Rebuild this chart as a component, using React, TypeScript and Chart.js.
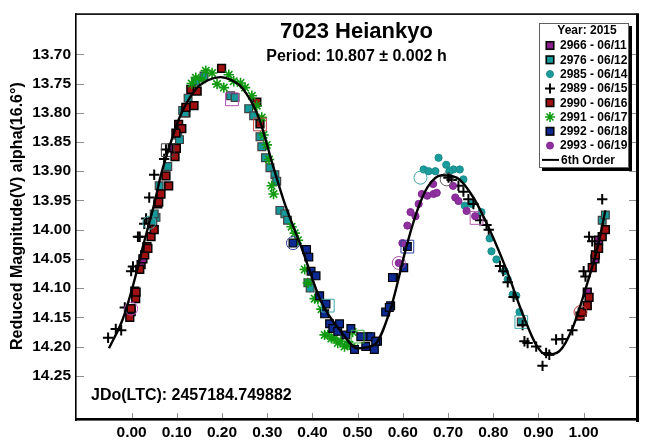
import React, { useEffect, useRef } from 'react';
import { Chart, registerables } from 'chart.js';

Chart.register(...registerables);

const FONT = '"Liberation Sans", Arial, Helvetica, sans-serif';

const titleText = '7023 Heiankyo';
const periodText = 'Period: 10.807 \u00b1 0.002 h';
const epochText = 'JDo(LTC): 2457184.749882';
const yAxisTitle = 'Reduced Magnitude(V) alpha(16.6\u00b0)';
const legendHeader = 'Year: 2015';
const fitLabel = '6th Order';

const xTicks = [0, 0.1, 0.2, 0.3, 0.4, 0.5, 0.6, 0.7, 0.8, 0.9, 1.0];
const yTicks = [13.7, 13.75, 13.8, 13.85, 13.9, 13.95, 14.0, 14.05, 14.1, 14.15, 14.2, 14.25];

const sessionLabels = [
  '2966 - 06/11', '2976 - 06/12', '2985 - 06/14', '2989 - 06/15',
  '2990 - 06/16', '2991 - 06/17', '2992 - 06/18', '2993 - 06/19',
];

// 6th order Fourier fit (phase, mag)
const fitCurve: [number, number][] = [
  [-0.05, 14.203], [-0.019, 14.152], [0.003, 14.096], [0.025, 14.029], [0.05, 13.956],
  [0.065, 13.906], [0.085, 13.855], [0.105, 13.81], [0.142, 13.76], [0.17, 13.744],
  [0.197, 13.739], [0.22, 13.744], [0.244, 13.757], [0.281, 13.808], [0.314, 13.894],
  [0.339, 13.956], [0.376, 14.031], [0.42, 14.124], [0.463, 14.174], [0.5, 14.203],
  [0.537, 14.197], [0.573, 14.135], [0.61, 14.023], [0.632, 13.967], [0.654, 13.928],
  [0.686, 13.907], [0.719, 13.911], [0.756, 13.945], [0.792, 14.0], [0.829, 14.068],
  [0.866, 14.146], [0.895, 14.197], [0.917, 14.214], [0.946, 14.208], [0.975, 14.169],
  [1.004, 14.102], [1.033, 14.023], [1.048, 13.967],
];

const s2966: [number, number][] = [
  [0.007, 14.105], [-0.001, 14.14], [0.021, 14.06], [0.025, 14.05], [0.045, 13.99],
  [0.09, 13.86], [0.12, 13.8], [1.008, 14.107], [1.033, 14.018], [1.025, 14.05],
];
const s2976: [number, number][] = [
  [0.054, 13.979], [0.047, 13.985], [0.05, 13.973], [0.061, 13.925], [0.08, 13.892],
  [0.102, 13.838], [0.106, 13.846], [0.113, 13.796], [0.118, 13.8], [0.125, 13.775],
  [0.142, 13.746], [0.16, 13.737], [0.219, 13.771], [0.229, 13.774], [0.259, 13.793],
  [0.27, 13.805], [0.284, 13.841], [0.288, 13.858], [0.296, 13.877], [0.306, 13.894],
  [0.317, 13.906], [0.321, 13.917], [0.328, 13.967], [0.339, 13.973], [0.345, 13.984],
  [0.39, 14.091], [0.395, 14.1], [0.862, 14.158], [1.041, 13.984], [1.048, 13.975],
];
const s2985: [number, number][] = [
  [0.679, 13.877], [0.696, 13.889], [0.646, 13.897], [0.657, 13.9], [0.672, 13.9],
  [0.712, 13.897], [0.726, 13.897], [0.734, 13.914], [0.703, 13.9], [0.737, 13.959],
  [0.752, 13.956], [0.774, 13.97], [0.792, 14.015], [0.796, 14.037], [0.807, 14.051],
  [0.825, 14.071], [0.832, 14.085], [0.843, 14.111], [0.851, 14.113], [0.858, 14.141],
  [0.865, 14.158],
];
const s2989: [number, number][] = [
  [-0.052, 14.185], [-0.035, 14.17], [-0.023, 14.172], [-0.015, 14.133], [-0.001, 14.071],
  [0.003, 14.063], [0.014, 14.012], [0.018, 14.012], [0.028, 13.99], [0.032, 13.981],
  [0.039, 13.945], [0.05, 13.906], [0.072, 13.879], [0.076, 13.863],
  [0.701, 13.911], [0.708, 13.915], [0.723, 13.925], [0.734, 13.935], [0.745, 13.948],
  [0.756, 13.956], [0.771, 13.984], [0.785, 13.992], [0.79, 14.0], [0.815, 14.062],
  [0.822, 14.071], [0.832, 14.09], [0.845, 14.115], [0.865, 14.163], [0.869, 14.191],
  [0.876, 14.194], [0.895, 14.2], [0.909, 14.233], [0.917, 14.211], [0.924, 14.214],
  [0.939, 14.188], [0.953, 14.187], [0.975, 14.172], [1.0, 14.071], [1.004, 14.08],
  [1.012, 14.012], [1.019, 14.02], [1.041, 13.948],
];
const s2990: [number, number][] = [
  [-0.004, 14.15], [-0.001, 14.135], [0.009, 14.118], [0.01, 14.107], [0.018, 14.068],
  [0.029, 14.043], [0.034, 14.029], [0.036, 14.032], [0.043, 14.012], [0.05, 14.0],
  [0.058, 13.956], [0.06, 13.953], [0.065, 13.939], [0.076, 13.908], [0.082, 13.925],
  [0.096, 13.875], [0.099, 13.861], [0.104, 13.82], [0.111, 13.827], [0.098, 13.835],
  [0.12, 13.791], [0.138, 13.788], [0.131, 13.76], [0.145, 13.763], [0.199, 13.724],
  [0.277, 13.782], [0.284, 13.819],
  [0.992, 14.148], [0.997, 14.141], [1.008, 14.13], [1.012, 14.116], [1.019, 14.065],
  [1.026, 14.043], [1.033, 14.032], [1.041, 14.012], [1.048, 14.0],
];
const s2991: [number, number][] = [
  [0.133, 13.75], [0.142, 13.74], [0.156, 13.743], [0.164, 13.728], [0.178, 13.732],
  [0.189, 13.751], [0.204, 13.757], [0.215, 13.735], [0.226, 13.746], [0.241, 13.749],
  [0.251, 13.757], [0.266, 13.771], [0.277, 13.788], [0.288, 13.808], [0.292, 13.838],
  [0.299, 13.855], [0.304, 13.88], [0.31, 13.925], [0.314, 13.939], [0.354, 13.995],
  [0.361, 14.006], [0.368, 14.018], [0.383, 14.068], [0.39, 14.091], [0.405, 14.118],
  [0.412, 14.119], [0.42, 14.136], [0.427, 14.18], [0.434, 14.18], [0.442, 14.186],
  [0.449, 14.186], [0.456, 14.194], [0.463, 14.191], [0.471, 14.2], [0.478, 14.197],
  [0.482, 14.197], [0.489, 14.175], [0.493, 14.203],
];
const s2992: [number, number][] = [
  [0.357, 14.023], [0.387, 14.034], [0.392, 14.047], [0.397, 14.071], [0.408, 14.079],
  [0.416, 14.113], [0.43, 14.127], [0.427, 14.144], [0.438, 14.161], [0.445, 14.169],
  [0.46, 14.161], [0.456, 14.174], [0.474, 14.18], [0.485, 14.169], [0.493, 14.205],
  [0.507, 14.183], [0.522, 14.183], [0.518, 14.2], [0.537, 14.205], [0.544, 14.191],
  [0.529, 14.183], [0.54, 14.191], [0.562, 14.141], [0.573, 14.13], [0.57, 14.133],
  [0.58, 14.082], [0.577, 14.082], [0.602, 14.065], [0.61, 14.029],
];
const s2993: [number, number][] = [
  [0.591, 14.057], [0.599, 14.023], [0.61, 13.993], [0.617, 13.97], [0.628, 13.977],
  [0.635, 13.956], [0.642, 13.939], [0.654, 13.942], [0.668, 13.939], [0.675, 13.937],
  [0.667, 13.922], [0.711, 13.925], [0.716, 13.945], [0.723, 13.951], [0.741, 13.968],
  [0.76, 13.977],
];

// session start/end markers (hollow)
const openSquares: [number, number][] = [
  [0.222, 13.777], [0.763, 13.98], [0.434, 14.13], [0.862, 14.158], [0.08, 13.864],
  [0.284, 13.82], [0.5, 14.183], [0.61, 14.029],
];
const openCircles: [number, number][] = [
  [0.039, 13.988], [0.639, 13.911], [0.697, 13.914], [0.993, 14.141], [0.357, 14.023],
  [-0.001, 14.135], [0.591, 14.057],
];

const openSquareColors = ['#b050b0', '#b060b0', '#40a8a8', '#40a8a8', '#404040', '#c04040', '#40b040', '#3040a0'];
const openCircleColors = ['#40a8a8', '#40a8a8', '#606060', '#c04040', '#3040a0', '#c050c0', '#b050b0'];

type Sty = { shape: string; fill: string; stroke: string; r: number; bw: number };
const styles: Sty[] = [
  { shape: 'rect', fill: '#8c1f8c', stroke: '#000', r: 5.5, bw: 1.5 },
  { shape: 'rect', fill: '#16999a', stroke: '#404040', r: 5.5, bw: 1.2 },
  { shape: 'circle', fill: '#1a9c9c', stroke: '#1a8a8a', r: 3.6, bw: 1 },
  { shape: 'cross', fill: '#000', stroke: '#000', r: 5.2, bw: 2 },
  { shape: 'rect', fill: '#a01010', stroke: '#000', r: 5.5, bw: 1.5 },
  { shape: 'star', fill: '#109a10', stroke: '#109a10', r: 5.2, bw: 1.6 },
  { shape: 'rect', fill: '#0c2a92', stroke: '#000', r: 5.5, bw: 1.2 },
  { shape: 'circle', fill: '#9030a0', stroke: '#802890', r: 3.6, bw: 1 },
];
const seriesData = [s2966, s2976, s2985, s2989, s2990, s2991, s2992, s2993];

const toXY = (arr: [number, number][]) => arr.map(([x, y]) => ({ x, y }));

function drawMarker(ctx: CanvasRenderingContext2D, s: Sty, x: number, y: number) {
  ctx.save();
  ctx.lineWidth = s.bw;
  ctx.strokeStyle = s.stroke;
  ctx.fillStyle = s.fill;
  if (s.shape === 'rect') {
    const h = s.r * Math.SQRT1_2;
    ctx.fillRect(x - h, y - h, 2 * h, 2 * h);
    ctx.strokeRect(x - h, y - h, 2 * h, 2 * h);
  } else if (s.shape === 'circle') {
    ctx.beginPath();
    ctx.arc(x, y, s.r, 0, Math.PI * 2);
    ctx.fill();
    ctx.stroke();
  } else {
    ctx.beginPath();
    ctx.moveTo(x - s.r, y); ctx.lineTo(x + s.r, y);
    ctx.moveTo(x, y - s.r); ctx.lineTo(x, y + s.r);
    if (s.shape === 'star') {
      const d = s.r * Math.SQRT1_2;
      ctx.moveTo(x - d, y - d); ctx.lineTo(x + d, y + d);
      ctx.moveTo(x - d, y + d); ctx.lineTo(x + d, y - d);
    }
    ctx.stroke();
  }
  ctx.restore();
}

const decorPlugin = {
  id: 'decor',
  beforeDraw(chart: any) {
    const ctx = chart.ctx;
    ctx.save();
    ctx.fillStyle = '#fff';
    ctx.fillRect(0, 0, chart.width, chart.height);
    ctx.restore();
  },
  afterDraw(chart: any) {
    const ctx: CanvasRenderingContext2D = chart.ctx;
    const a = chart.chartArea;
    const xs = chart.scales.x;
    const ys = chart.scales.y;
    ctx.save();
    // tick marks
    ctx.strokeStyle = '#8f8f8f';
    ctx.lineWidth = 1;
    ctx.beginPath();
    yTicks.forEach((v) => {
      const py = Math.round(ys.getPixelForValue(v)) + 0.5;
      ctx.moveTo(a.left, py); ctx.lineTo(a.left + 8, py);
      ctx.moveTo(a.right - 8, py); ctx.lineTo(a.right, py);
    });
    xTicks.forEach((v) => {
      const px = Math.round(xs.getPixelForValue(v)) + 0.5;
      ctx.moveTo(px, a.bottom); ctx.lineTo(px, a.bottom - 7);
    });
    ctx.stroke();
    // frame with shadow
    ctx.fillStyle = '#000';
    ctx.fillRect(a.left - 1, a.top - 1, 1.6, a.bottom - a.top + 2);
    ctx.fillRect(a.left - 1, a.top - 1, a.right - a.left + 1, 1.6);
    ctx.fillRect(a.right - 1, a.top - 1, 3, a.bottom - a.top + 3);
    ctx.fillRect(a.left - 1, a.bottom - 2, a.right - a.left + 3, 2.6);

    const cx = (a.left + a.right) / 2;
    ctx.fillStyle = '#000';
    ctx.textAlign = 'center';
    ctx.textBaseline = 'middle';
    ctx.font = `bold 22px ${FONT}`;
    ctx.fillText(titleText, cx, 32);
    ctx.font = `bold 16px ${FONT}`;
    ctx.fillText(periodText, cx, 57);
    ctx.textAlign = 'left';
    ctx.fillText(epochText, 91, 396);

    // y axis title
    ctx.save();
    ctx.translate(18, (a.top + a.bottom) / 2 - 1);
    ctx.rotate(-Math.PI / 2);
    ctx.textAlign = 'center';
    ctx.font = `bold 16px ${FONT}`;
    ctx.fillText(yAxisTitle, 0, 0);
    ctx.restore();

    // legend
    const lx = 539, ly = 23, lw = 90, lh = 145;
    ctx.fillStyle = '#000';
    ctx.fillRect(lx + 3, ly + 3, lw, lh);
    ctx.fillStyle = '#fff';
    ctx.fillRect(lx, ly, lw, lh);
    ctx.strokeStyle = '#606060';
    ctx.lineWidth = 1;
    ctx.strokeRect(lx + 0.5, ly + 0.5, lw - 1, lh - 1);
    ctx.fillStyle = '#000';
    ctx.font = `bold 12px ${FONT}`;
    ctx.textAlign = 'center';
    ctx.fillText(legendHeader, lx + lw / 2 + 3, 31);
    ctx.textAlign = 'left';
    sessionLabels.forEach((lab, i) => {
      const yy = 45.5 + i * 14.3;
      const st = styles[i];
      const legSty = st.shape === 'rect' ? { ...st, r: 5.3, bw: 1.6, stroke: '#000' } : st.shape === 'circle' ? { ...st, r: 3.5 } : { ...st, r: 5 };
      drawMarker(ctx, legSty, 550, yy);
      ctx.fillStyle = '#000';
      ctx.fillText(lab, 560, yy + 0.5);
    });
    const fy = 45.5 + 8 * 14.3;
    ctx.strokeStyle = '#000';
    ctx.lineWidth = 2;
    ctx.beginPath();
    ctx.moveTo(542, fy); ctx.lineTo(559, fy);
    ctx.stroke();
    ctx.fillText(fitLabel, 561, fy + 0.5);
    ctx.restore();
  },
};

export default function App() {
  const ref = useRef<HTMLCanvasElement | null>(null);
  useEffect(() => {
    document.body.style.margin = '0';
    const canvas = ref.current;
    if (!canvas) return;
    const pointSets = seriesData.map((d, i) => ({
      label: sessionLabels[i],
      data: toXY(d),
      pointStyle: styles[i].shape,
      pointRadius: styles[i].r,
      pointBackgroundColor: styles[i].fill,
      pointBorderColor: styles[i].stroke,
      pointBorderWidth: styles[i].bw,
      showLine: false,
      order: 10 - i,
    }));
    const chart = new Chart(canvas, {
      type: 'scatter',
      data: {
        datasets: [
          {
            label: fitLabel,
            data: toXY(fitCurve),
            showLine: true,
            borderColor: '#000',
            borderWidth: 2.4,
            pointRadius: 0,
            cubicInterpolationMode: 'monotone',
            fill: false,
            order: 0,
          } as any,
          {
            label: 'open squares',
            data: toXY(openSquares),
            pointStyle: 'rect',
            pointRadius: 9,
            pointBackgroundColor: 'rgba(0,0,0,0)',
            pointBorderColor: openSquareColors,
            pointBorderWidth: 1,
            order: 1,
          },
          {
            label: 'open circles',
            data: toXY(openCircles),
            pointStyle: 'circle',
            pointRadius: 6.5,
            pointBackgroundColor: 'rgba(0,0,0,0)',
            pointBorderColor: openCircleColors,
            pointBorderWidth: 1,
            order: 1,
          },
          ...pointSets,
        ],
      },
      options: {
        responsive: false,
        devicePixelRatio: 1,
        animation: false,
        events: [],
        layout: { padding: { left: 0, top: 7, right: 5, bottom: 0 } },
        plugins: { legend: { display: false }, tooltip: { enabled: false }, title: { display: false } },
        scales: {
          x: {
            type: 'linear',
            min: -0.123,
            max: 1.118,
            grid: { display: false, drawTicks: false },
            border: { display: false },
            afterBuildTicks: (s: any) => { s.ticks = xTicks.map((v) => ({ value: v })); },
            afterFit: (s: any) => { s.height = 23; },
            ticks: {
              autoSkip: false,
              maxRotation: 0,
              padding: 3,
              color: '#000',
              font: { family: FONT, size: 15.5, weight: 'bold' },
              callback: (v: any) => Number(v).toFixed(2),
            },
          },
          y: {
            type: 'linear',
            reverse: true,
            min: 13.6316,
            max: 14.3256,
            grid: { display: false, drawTicks: false },
            border: { display: false },
            afterBuildTicks: (s: any) => { s.ticks = yTicks.map((v) => ({ value: v })); },
            afterFit: (s: any) => { s.width = 76; },
            ticks: {
              autoSkip: false,
              padding: 5,
              color: '#000',
              font: { family: FONT, size: 15.5, weight: 'bold' },
              callback: (v: any) => Number(v).toFixed(2),
            },
          },
        },
      } as any,
      plugins: [decorPlugin],
    });
    return () => chart.destroy();
  }, []);
  return <canvas ref={ref} width={647} height={443} style={{ display: 'block' }} />;
}
